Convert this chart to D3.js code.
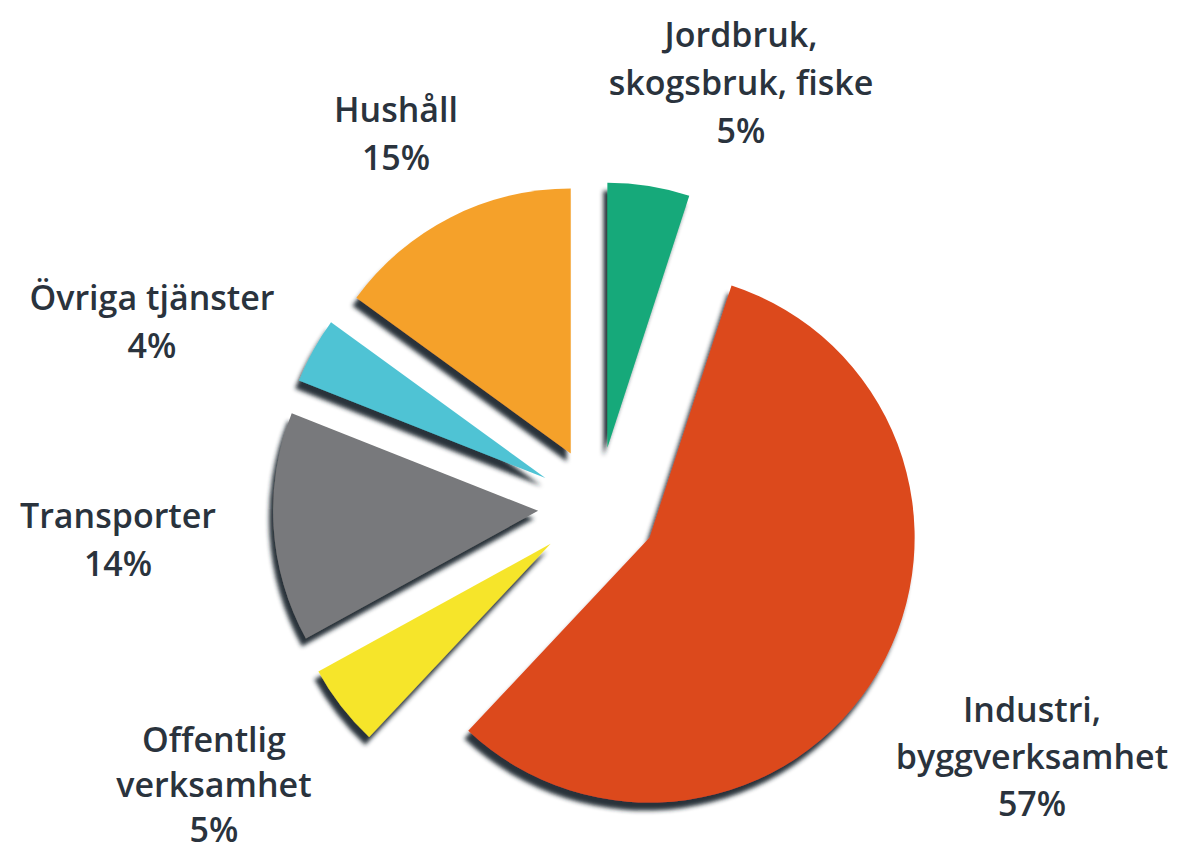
<!DOCTYPE html>
<html>
<head>
<meta charset="utf-8">
<script src="https://cdn.jsdelivr.net/npm/d3@7"></script>
<style>
  body { margin: 0; background: #fff; }
  text { font-family: "Open Sans", "Noto Sans", sans-serif; fill: #2a333d; }
</style>
</head>
<body>
<script>
var w = 1195;
var h = 854;

// Slices in clockwise order starting at 12 o'clock
var categories = ["Jordbruk, skogsbruk, fiske", "Industri, byggverksamhet", "Offentlig verksamhet", "Transporter", "Övriga tjänster", "Hushåll"];
var values = [5, 57, 5, 14, 4, 15];
var labelLines = [
    ["Jordbruk,", "skogsbruk, fiske"],
    ["Industri,", "byggverksamhet"],
    ["Offentlig", "verksamhet"],
    ["Transporter"],
    ["Övriga tjänster"],
    ["Hushåll"]
];
var colors = ["#17a97a", "#dc491d", "#f6e52c", "#78797b", "#4fc3d4", "#f5a12c"];

// label anchor (centre x, first baseline y)
var labelPos = [[741, 47], [1032, 722], [214, 752], [118, 528], [152, 310], [396, 122]];
// per-label line spacing
var labelGap = [48, 47, 45, 48, 48, 48];

var cx = 598, cy = 507;
var radius = 265;
var explode = 60;

var svg = d3.select("body")
    .append("svg")
    .attr("width", w)
    .attr("height", h);

var defs = svg.append("defs");
var filter = defs.append("filter")
    .attr("id", "shadow")
    .attr("x", "-20%").attr("y", "-20%")
    .attr("width", "140%").attr("height", "140%");
filter.append("feDropShadow")
    .attr("dx", -4)
    .attr("dy", 8)
    .attr("stdDeviation", 2.2)
    .attr("flood-color", "#1e272d")
    .attr("flood-opacity", 0.95);

var pie = d3.pie().sort(null).value(function(d) { return d; });
var arc = d3.arc().innerRadius(0).outerRadius(radius);

var arcs = pie(values);

svg.append("g")
    .attr("transform", "translate(" + cx + "," + cy + ")")
    .selectAll("path")
    .data(arcs)
    .enter()
    .append("path")
    .attr("d", arc)
    .attr("fill", function(d, i) { return colors[i]; })
    .attr("filter", "url(#shadow)")
    .attr("transform", function(d) {
        var mid = (d.startAngle + d.endAngle) / 2;
        return "translate(" + (Math.sin(mid) * explode) + "," + (-Math.cos(mid) * explode) + ")";
    });

// Labels
var labels = svg.append("g")
    .selectAll("text")
    .data(arcs)
    .enter()
    .append("text")
    .attr("text-anchor", "middle")
    .attr("font-size", 34)
    .attr("font-weight", 600)
    .attr("x", function(d, i) { return labelPos[i][0]; })
    .attr("y", function(d, i) { return labelPos[i][1]; });

labels.each(function(d, i) {
    var t = d3.select(this);
    var lines = labelLines[i].concat([values[i] + "%"]);
    lines.forEach(function(line, j) {
        t.append("tspan")
            .attr("x", labelPos[i][0])
            .attr("dy", j === 0 ? 0 : labelGap[i])
            .text(line);
    });
});
</script>
</body>
</html>
